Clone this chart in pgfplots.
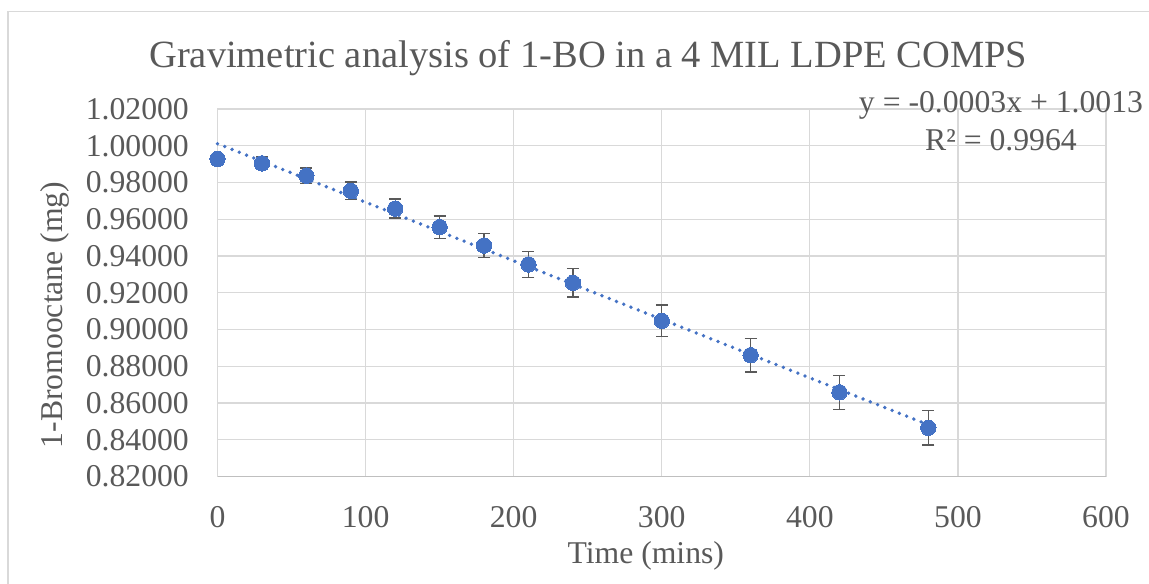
\documentclass[border=0pt]{standalone}
\usepackage{fontspec}
\setmainfont{Liberation Serif}
\usepackage{pgfplots}
\usepackage{pgfplotstable}
\pgfplotsset{compat=1.18}
\definecolor{txt}{HTML}{595959}
\definecolor{grd}{HTML}{D9D9D9}
\definecolor{axl}{HTML}{BFBFBF}
\definecolor{blu}{HTML}{4472C4}
\definecolor{err}{HTML}{595959}
\pgfplotstableread{
x y e
0 0.9928 0.0020
30 0.9904 0.0034
60 0.9837 0.0042
90 0.9755 0.0047
120 0.9658 0.0052
150 0.9557 0.0061
180 0.9457 0.0066
210 0.9354 0.0072
240 0.9254 0.0078
300 0.9047 0.0086
360 0.8860 0.0091
420 0.8658 0.0092
480 0.8465 0.0094
}\datatab
\begin{document}
\begin{tikzpicture}[x=1bp,y=1bp]
\useasboundingbox (0,0) rectangle (1149,584);
\draw[grd, line width=1.3bp] (8,0) -- (8,572.7) -- (1149,572.7);
\begin{axis}[
  at={(217.5bp,107.5bp)}, anchor=south west,
  scale only axis, width=888.5bp, height=367.5bp,
  xmin=0, xmax=600, ymin=0.82, ymax=1.02,
  xtick={0,100,200,300,400,500,600},
  ytick={0.82,0.84,0.86,0.88,0.90,0.92,0.94,0.96,0.98,1.00,1.02},
  grid=major,
  major grid style={grd, line width=1.3bp},
  axis line style={grd, line width=1.3bp},
  major tick length=0pt,
  clip=false,
  tick label style={font=\fontsize{31.7bp}{38bp}\selectfont, text=txt},
  /pgf/number format/assume math mode=true,
  yticklabel style={/pgf/number format/.cd, fixed, fixed zerofill, precision=5, /tikz/.cd, anchor=east, inner sep=0pt, xshift=-28.5bp},
  xticklabel style={anchor=north, inner sep=0pt, yshift=-29.5bp},
]
\draw[axl, line width=1.3bp] (axis cs:0,0.82) -- (axis cs:600,0.82);
\addplot[blu, line width=3.8bp, line cap=round, dash pattern=on 0pt off 7.8bp]
  table[x=x, y={create col/linear regression={y=y}}] {\datatab};
\addplot[only marks, mark=*, mark size=7.7bp, mark options={fill=blu, draw=blu, line width=0pt},
  error bars/.cd, y dir=both, y explicit,
  error bar style={err, line width=1.3bp},
  error mark options={rotate=90, mark size=6bp, err, line width=1.3bp}]
  table[x=x, y=y, y error=e] {\datatab};
\end{axis}
\node[anchor=base, text=txt, font=\fontsize{38.5bp}{46bp}\selectfont] at (588.3,516.3) {Gravimetric analysis of 1-BO in a 4 MIL LDPE COMPS};
\node[anchor=base, text=txt, font=\fontsize{31.7bp}{38bp}\selectfont] at (645.8,20.7) {Time (mins)};
\node[rotate=90, text=txt, inner sep=0pt, font=\fontsize{31.7bp}{38bp}\selectfont] at (55,269) {1-Bromooctane (mg)};
\node[anchor=base, text=txt, font=\fontsize{31.7bp}{38bp}\selectfont] at (1001,471) {y = -0.0003x + 1.0013};
\node[anchor=base, text=txt, font=\fontsize{31.7bp}{38bp}\selectfont] at (1001,433) {R² = 0.9964};
\end{tikzpicture}
\end{document}
